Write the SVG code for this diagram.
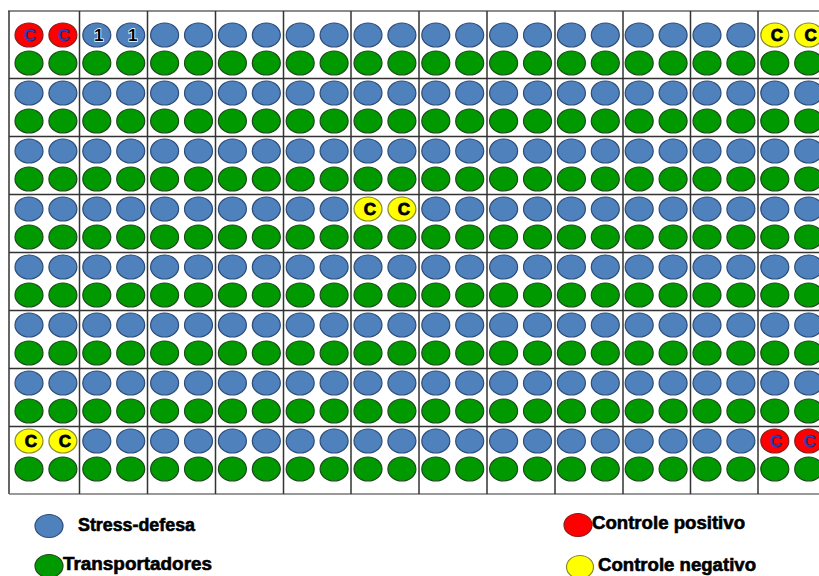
<svg xmlns="http://www.w3.org/2000/svg" xmlns:xlink="http://www.w3.org/1999/xlink" width="819" height="576" viewBox="0 0 819 576">
<style>
.b{fill:#4F81BD;stroke:#2E4D78;stroke-width:1.2}
.g{fill:#009A00;stroke:#1E4A1E;stroke-width:1.2}
.r{fill:#FF0000;stroke:#8A1E1E;stroke-width:1.2}
.y{fill:#FFFF00;stroke:#8A8A2E;stroke-width:1.2}
.ln{stroke:#333;stroke-width:1.5;fill:none}
.top{stroke:#8C8C8C;stroke-width:2;fill:none}
.lc{font-family:"Liberation Sans",Arial,sans-serif;font-weight:bold;font-size:17px;text-anchor:middle}
.cb{fill:#3344CC;stroke:#1a1a4a;stroke-width:0.5}
.ck{fill:#000;stroke:#000;stroke-width:0.8}
.one{fill:#000;stroke:#fff;stroke-width:1.4;paint-order:stroke}
.leg{font-family:"Liberation Sans",Arial,sans-serif;font-weight:bold;font-size:18px;fill:#000;stroke:#000;stroke-width:0.6}
</style>
<defs>
<ellipse id="bw" class="b" rx="14" ry="12"/>
<ellipse id="gw" class="g" rx="14" ry="12"/>
<ellipse id="rw" class="r" rx="14" ry="12"/>
<ellipse id="yw" class="y" rx="14" ry="12"/>
</defs>
<rect width="819" height="576" fill="#fff"/>
<g id="grid">
<line class="top" x1="8" y1="11" x2="819" y2="11"/>
<line class="ln" x1="9" y1="11" x2="9" y2="494"/>
<line class="ln" x1="9" y1="494" x2="819" y2="494" style="stroke:#777"/>
<line class="ln" x1="79.5" y1="11" x2="79.5" y2="494"/>
<line class="ln" x1="147.5" y1="11" x2="147.5" y2="494"/>
<line class="ln" x1="215.5" y1="11" x2="215.5" y2="494"/>
<line class="ln" x1="283.5" y1="11" x2="283.5" y2="494"/>
<line class="ln" x1="351" y1="11" x2="351" y2="494"/>
<line class="ln" x1="419" y1="11" x2="419" y2="494"/>
<line class="ln" x1="487" y1="11" x2="487" y2="494"/>
<line class="ln" x1="555" y1="11" x2="555" y2="494"/>
<line class="ln" x1="623" y1="11" x2="623" y2="494"/>
<line class="ln" x1="690.5" y1="11" x2="690.5" y2="494"/>
<line class="ln" x1="758" y1="11" x2="758" y2="494"/>
<line class="ln" x1="9" y1="78.5" x2="819" y2="78.5"/>
<line class="ln" x1="9" y1="136.5" x2="819" y2="136.5"/>
<line class="ln" x1="9" y1="194.5" x2="819" y2="194.5"/>
<line class="ln" x1="9" y1="252.5" x2="819" y2="252.5"/>
<line class="ln" x1="9" y1="310.5" x2="819" y2="310.5"/>
<line class="ln" x1="9" y1="368.5" x2="819" y2="368.5"/>
<line class="ln" x1="9" y1="426.5" x2="819" y2="426.5"/>
</g>
<g id="connectors"></g>
<g id="plate">
<g id="A1" transform="translate(29,35)"><use href="#rw"/><use href="#rw" x="33.9"/><use href="#gw" y="28"/><use href="#gw" x="33.9" y="28"/><text class="lc cb" x="1" y="6">C</text><text class="lc cb" x="34.9" y="6">C</text></g>
<g id="A2" transform="translate(96.8,35)"><use href="#bw"/><use href="#bw" x="33.9"/><use href="#gw" y="28"/><use href="#gw" x="33.9" y="28"/><text class="lc one" x="2" y="6">1</text><text class="lc one" x="35.9" y="6">1</text></g>
<g id="A3" transform="translate(164.6,35)"><use href="#bw"/><use href="#bw" x="33.9"/><use href="#gw" y="28"/><use href="#gw" x="33.9" y="28"/></g>
<g id="A4" transform="translate(232.4,35)"><use href="#bw"/><use href="#bw" x="33.9"/><use href="#gw" y="28"/><use href="#gw" x="33.9" y="28"/></g>
<g id="A5" transform="translate(300.2,35)"><use href="#bw"/><use href="#bw" x="33.9"/><use href="#gw" y="28"/><use href="#gw" x="33.9" y="28"/></g>
<g id="A6" transform="translate(368,35)"><use href="#bw"/><use href="#bw" x="33.9"/><use href="#gw" y="28"/><use href="#gw" x="33.9" y="28"/></g>
<g id="A7" transform="translate(435.8,35)"><use href="#bw"/><use href="#bw" x="33.9"/><use href="#gw" y="28"/><use href="#gw" x="33.9" y="28"/></g>
<g id="A8" transform="translate(503.6,35)"><use href="#bw"/><use href="#bw" x="33.9"/><use href="#gw" y="28"/><use href="#gw" x="33.9" y="28"/></g>
<g id="A9" transform="translate(571.4,35)"><use href="#bw"/><use href="#bw" x="33.9"/><use href="#gw" y="28"/><use href="#gw" x="33.9" y="28"/></g>
<g id="A10" transform="translate(639.2,35)"><use href="#bw"/><use href="#bw" x="33.9"/><use href="#gw" y="28"/><use href="#gw" x="33.9" y="28"/></g>
<g id="A11" transform="translate(707,35)"><use href="#bw"/><use href="#bw" x="33.9"/><use href="#gw" y="28"/><use href="#gw" x="33.9" y="28"/></g>
<g id="A12" transform="translate(774.8,35)"><use href="#yw"/><use href="#yw" x="33.9"/><use href="#gw" y="28"/><use href="#gw" x="33.9" y="28"/><text class="lc ck" x="2" y="6">C</text><text class="lc ck" x="35.9" y="6">C</text></g>

<g id="B1" transform="translate(29,93)"><use href="#bw"/><use href="#bw" x="33.9"/><use href="#gw" y="28"/><use href="#gw" x="33.9" y="28"/></g>
<g id="B2" transform="translate(96.8,93)"><use href="#bw"/><use href="#bw" x="33.9"/><use href="#gw" y="28"/><use href="#gw" x="33.9" y="28"/></g>
<g id="B3" transform="translate(164.6,93)"><use href="#bw"/><use href="#bw" x="33.9"/><use href="#gw" y="28"/><use href="#gw" x="33.9" y="28"/></g>
<g id="B4" transform="translate(232.4,93)"><use href="#bw"/><use href="#bw" x="33.9"/><use href="#gw" y="28"/><use href="#gw" x="33.9" y="28"/></g>
<g id="B5" transform="translate(300.2,93)"><use href="#bw"/><use href="#bw" x="33.9"/><use href="#gw" y="28"/><use href="#gw" x="33.9" y="28"/></g>
<g id="B6" transform="translate(368,93)"><use href="#bw"/><use href="#bw" x="33.9"/><use href="#gw" y="28"/><use href="#gw" x="33.9" y="28"/></g>
<g id="B7" transform="translate(435.8,93)"><use href="#bw"/><use href="#bw" x="33.9"/><use href="#gw" y="28"/><use href="#gw" x="33.9" y="28"/></g>
<g id="B8" transform="translate(503.6,93)"><use href="#bw"/><use href="#bw" x="33.9"/><use href="#gw" y="28"/><use href="#gw" x="33.9" y="28"/></g>
<g id="B9" transform="translate(571.4,93)"><use href="#bw"/><use href="#bw" x="33.9"/><use href="#gw" y="28"/><use href="#gw" x="33.9" y="28"/></g>
<g id="B10" transform="translate(639.2,93)"><use href="#bw"/><use href="#bw" x="33.9"/><use href="#gw" y="28"/><use href="#gw" x="33.9" y="28"/></g>
<g id="B11" transform="translate(707,93)"><use href="#bw"/><use href="#bw" x="33.9"/><use href="#gw" y="28"/><use href="#gw" x="33.9" y="28"/></g>
<g id="B12" transform="translate(774.8,93)"><use href="#bw"/><use href="#bw" x="33.9"/><use href="#gw" y="28"/><use href="#gw" x="33.9" y="28"/></g>

<g id="C1" transform="translate(29,151)"><use href="#bw"/><use href="#bw" x="33.9"/><use href="#gw" y="28"/><use href="#gw" x="33.9" y="28"/></g>
<g id="C2" transform="translate(96.8,151)"><use href="#bw"/><use href="#bw" x="33.9"/><use href="#gw" y="28"/><use href="#gw" x="33.9" y="28"/></g>
<g id="C3" transform="translate(164.6,151)"><use href="#bw"/><use href="#bw" x="33.9"/><use href="#gw" y="28"/><use href="#gw" x="33.9" y="28"/></g>
<g id="C4" transform="translate(232.4,151)"><use href="#bw"/><use href="#bw" x="33.9"/><use href="#gw" y="28"/><use href="#gw" x="33.9" y="28"/></g>
<g id="C5" transform="translate(300.2,151)"><use href="#bw"/><use href="#bw" x="33.9"/><use href="#gw" y="28"/><use href="#gw" x="33.9" y="28"/></g>
<g id="C6" transform="translate(368,151)"><use href="#bw"/><use href="#bw" x="33.9"/><use href="#gw" y="28"/><use href="#gw" x="33.9" y="28"/></g>
<g id="C7" transform="translate(435.8,151)"><use href="#bw"/><use href="#bw" x="33.9"/><use href="#gw" y="28"/><use href="#gw" x="33.9" y="28"/></g>
<g id="C8" transform="translate(503.6,151)"><use href="#bw"/><use href="#bw" x="33.9"/><use href="#gw" y="28"/><use href="#gw" x="33.9" y="28"/></g>
<g id="C9" transform="translate(571.4,151)"><use href="#bw"/><use href="#bw" x="33.9"/><use href="#gw" y="28"/><use href="#gw" x="33.9" y="28"/></g>
<g id="C10" transform="translate(639.2,151)"><use href="#bw"/><use href="#bw" x="33.9"/><use href="#gw" y="28"/><use href="#gw" x="33.9" y="28"/></g>
<g id="C11" transform="translate(707,151)"><use href="#bw"/><use href="#bw" x="33.9"/><use href="#gw" y="28"/><use href="#gw" x="33.9" y="28"/></g>
<g id="C12" transform="translate(774.8,151)"><use href="#bw"/><use href="#bw" x="33.9"/><use href="#gw" y="28"/><use href="#gw" x="33.9" y="28"/></g>

<g id="D1" transform="translate(29,209)"><use href="#bw"/><use href="#bw" x="33.9"/><use href="#gw" y="28"/><use href="#gw" x="33.9" y="28"/></g>
<g id="D2" transform="translate(96.8,209)"><use href="#bw"/><use href="#bw" x="33.9"/><use href="#gw" y="28"/><use href="#gw" x="33.9" y="28"/></g>
<g id="D3" transform="translate(164.6,209)"><use href="#bw"/><use href="#bw" x="33.9"/><use href="#gw" y="28"/><use href="#gw" x="33.9" y="28"/></g>
<g id="D4" transform="translate(232.4,209)"><use href="#bw"/><use href="#bw" x="33.9"/><use href="#gw" y="28"/><use href="#gw" x="33.9" y="28"/></g>
<g id="D5" transform="translate(300.2,209)"><use href="#bw"/><use href="#bw" x="33.9"/><use href="#gw" y="28"/><use href="#gw" x="33.9" y="28"/></g>
<g id="D6" transform="translate(368,209)"><use href="#yw"/><use href="#yw" x="33.9"/><use href="#gw" y="28"/><use href="#gw" x="33.9" y="28"/><text class="lc ck" x="2" y="6">C</text><text class="lc ck" x="35.9" y="6">C</text></g>
<g id="D7" transform="translate(435.8,209)"><use href="#bw"/><use href="#bw" x="33.9"/><use href="#gw" y="28"/><use href="#gw" x="33.9" y="28"/></g>
<g id="D8" transform="translate(503.6,209)"><use href="#bw"/><use href="#bw" x="33.9"/><use href="#gw" y="28"/><use href="#gw" x="33.9" y="28"/></g>
<g id="D9" transform="translate(571.4,209)"><use href="#bw"/><use href="#bw" x="33.9"/><use href="#gw" y="28"/><use href="#gw" x="33.9" y="28"/></g>
<g id="D10" transform="translate(639.2,209)"><use href="#bw"/><use href="#bw" x="33.9"/><use href="#gw" y="28"/><use href="#gw" x="33.9" y="28"/></g>
<g id="D11" transform="translate(707,209)"><use href="#bw"/><use href="#bw" x="33.9"/><use href="#gw" y="28"/><use href="#gw" x="33.9" y="28"/></g>
<g id="D12" transform="translate(774.8,209)"><use href="#bw"/><use href="#bw" x="33.9"/><use href="#gw" y="28"/><use href="#gw" x="33.9" y="28"/></g>

<g id="E1" transform="translate(29,267)"><use href="#bw"/><use href="#bw" x="33.9"/><use href="#gw" y="28"/><use href="#gw" x="33.9" y="28"/></g>
<g id="E2" transform="translate(96.8,267)"><use href="#bw"/><use href="#bw" x="33.9"/><use href="#gw" y="28"/><use href="#gw" x="33.9" y="28"/></g>
<g id="E3" transform="translate(164.6,267)"><use href="#bw"/><use href="#bw" x="33.9"/><use href="#gw" y="28"/><use href="#gw" x="33.9" y="28"/></g>
<g id="E4" transform="translate(232.4,267)"><use href="#bw"/><use href="#bw" x="33.9"/><use href="#gw" y="28"/><use href="#gw" x="33.9" y="28"/></g>
<g id="E5" transform="translate(300.2,267)"><use href="#bw"/><use href="#bw" x="33.9"/><use href="#gw" y="28"/><use href="#gw" x="33.9" y="28"/></g>
<g id="E6" transform="translate(368,267)"><use href="#bw"/><use href="#bw" x="33.9"/><use href="#gw" y="28"/><use href="#gw" x="33.9" y="28"/></g>
<g id="E7" transform="translate(435.8,267)"><use href="#bw"/><use href="#bw" x="33.9"/><use href="#gw" y="28"/><use href="#gw" x="33.9" y="28"/></g>
<g id="E8" transform="translate(503.6,267)"><use href="#bw"/><use href="#bw" x="33.9"/><use href="#gw" y="28"/><use href="#gw" x="33.9" y="28"/></g>
<g id="E9" transform="translate(571.4,267)"><use href="#bw"/><use href="#bw" x="33.9"/><use href="#gw" y="28"/><use href="#gw" x="33.9" y="28"/></g>
<g id="E10" transform="translate(639.2,267)"><use href="#bw"/><use href="#bw" x="33.9"/><use href="#gw" y="28"/><use href="#gw" x="33.9" y="28"/></g>
<g id="E11" transform="translate(707,267)"><use href="#bw"/><use href="#bw" x="33.9"/><use href="#gw" y="28"/><use href="#gw" x="33.9" y="28"/></g>
<g id="E12" transform="translate(774.8,267)"><use href="#bw"/><use href="#bw" x="33.9"/><use href="#gw" y="28"/><use href="#gw" x="33.9" y="28"/></g>

<g id="F1" transform="translate(29,325)"><use href="#bw"/><use href="#bw" x="33.9"/><use href="#gw" y="28"/><use href="#gw" x="33.9" y="28"/></g>
<g id="F2" transform="translate(96.8,325)"><use href="#bw"/><use href="#bw" x="33.9"/><use href="#gw" y="28"/><use href="#gw" x="33.9" y="28"/></g>
<g id="F3" transform="translate(164.6,325)"><use href="#bw"/><use href="#bw" x="33.9"/><use href="#gw" y="28"/><use href="#gw" x="33.9" y="28"/></g>
<g id="F4" transform="translate(232.4,325)"><use href="#bw"/><use href="#bw" x="33.9"/><use href="#gw" y="28"/><use href="#gw" x="33.9" y="28"/></g>
<g id="F5" transform="translate(300.2,325)"><use href="#bw"/><use href="#bw" x="33.9"/><use href="#gw" y="28"/><use href="#gw" x="33.9" y="28"/></g>
<g id="F6" transform="translate(368,325)"><use href="#bw"/><use href="#bw" x="33.9"/><use href="#gw" y="28"/><use href="#gw" x="33.9" y="28"/></g>
<g id="F7" transform="translate(435.8,325)"><use href="#bw"/><use href="#bw" x="33.9"/><use href="#gw" y="28"/><use href="#gw" x="33.9" y="28"/></g>
<g id="F8" transform="translate(503.6,325)"><use href="#bw"/><use href="#bw" x="33.9"/><use href="#gw" y="28"/><use href="#gw" x="33.9" y="28"/></g>
<g id="F9" transform="translate(571.4,325)"><use href="#bw"/><use href="#bw" x="33.9"/><use href="#gw" y="28"/><use href="#gw" x="33.9" y="28"/></g>
<g id="F10" transform="translate(639.2,325)"><use href="#bw"/><use href="#bw" x="33.9"/><use href="#gw" y="28"/><use href="#gw" x="33.9" y="28"/></g>
<g id="F11" transform="translate(707,325)"><use href="#bw"/><use href="#bw" x="33.9"/><use href="#gw" y="28"/><use href="#gw" x="33.9" y="28"/></g>
<g id="F12" transform="translate(774.8,325)"><use href="#bw"/><use href="#bw" x="33.9"/><use href="#gw" y="28"/><use href="#gw" x="33.9" y="28"/></g>

<g id="G1" transform="translate(29,383)"><use href="#bw"/><use href="#bw" x="33.9"/><use href="#gw" y="28"/><use href="#gw" x="33.9" y="28"/></g>
<g id="G2" transform="translate(96.8,383)"><use href="#bw"/><use href="#bw" x="33.9"/><use href="#gw" y="28"/><use href="#gw" x="33.9" y="28"/></g>
<g id="G3" transform="translate(164.6,383)"><use href="#bw"/><use href="#bw" x="33.9"/><use href="#gw" y="28"/><use href="#gw" x="33.9" y="28"/></g>
<g id="G4" transform="translate(232.4,383)"><use href="#bw"/><use href="#bw" x="33.9"/><use href="#gw" y="28"/><use href="#gw" x="33.9" y="28"/></g>
<g id="G5" transform="translate(300.2,383)"><use href="#bw"/><use href="#bw" x="33.9"/><use href="#gw" y="28"/><use href="#gw" x="33.9" y="28"/></g>
<g id="G6" transform="translate(368,383)"><use href="#bw"/><use href="#bw" x="33.9"/><use href="#gw" y="28"/><use href="#gw" x="33.9" y="28"/></g>
<g id="G7" transform="translate(435.8,383)"><use href="#bw"/><use href="#bw" x="33.9"/><use href="#gw" y="28"/><use href="#gw" x="33.9" y="28"/></g>
<g id="G8" transform="translate(503.6,383)"><use href="#bw"/><use href="#bw" x="33.9"/><use href="#gw" y="28"/><use href="#gw" x="33.9" y="28"/></g>
<g id="G9" transform="translate(571.4,383)"><use href="#bw"/><use href="#bw" x="33.9"/><use href="#gw" y="28"/><use href="#gw" x="33.9" y="28"/></g>
<g id="G10" transform="translate(639.2,383)"><use href="#bw"/><use href="#bw" x="33.9"/><use href="#gw" y="28"/><use href="#gw" x="33.9" y="28"/></g>
<g id="G11" transform="translate(707,383)"><use href="#bw"/><use href="#bw" x="33.9"/><use href="#gw" y="28"/><use href="#gw" x="33.9" y="28"/></g>
<g id="G12" transform="translate(774.8,383)"><use href="#bw"/><use href="#bw" x="33.9"/><use href="#gw" y="28"/><use href="#gw" x="33.9" y="28"/></g>

<g id="H1" transform="translate(29,441)"><use href="#yw"/><use href="#yw" x="33.9"/><use href="#gw" y="28"/><use href="#gw" x="33.9" y="28"/><text class="lc ck" x="2" y="6">C</text><text class="lc ck" x="35.9" y="6">C</text></g>
<g id="H2" transform="translate(96.8,441)"><use href="#bw"/><use href="#bw" x="33.9"/><use href="#gw" y="28"/><use href="#gw" x="33.9" y="28"/></g>
<g id="H3" transform="translate(164.6,441)"><use href="#bw"/><use href="#bw" x="33.9"/><use href="#gw" y="28"/><use href="#gw" x="33.9" y="28"/></g>
<g id="H4" transform="translate(232.4,441)"><use href="#bw"/><use href="#bw" x="33.9"/><use href="#gw" y="28"/><use href="#gw" x="33.9" y="28"/></g>
<g id="H5" transform="translate(300.2,441)"><use href="#bw"/><use href="#bw" x="33.9"/><use href="#gw" y="28"/><use href="#gw" x="33.9" y="28"/></g>
<g id="H6" transform="translate(368,441)"><use href="#bw"/><use href="#bw" x="33.9"/><use href="#gw" y="28"/><use href="#gw" x="33.9" y="28"/></g>
<g id="H7" transform="translate(435.8,441)"><use href="#bw"/><use href="#bw" x="33.9"/><use href="#gw" y="28"/><use href="#gw" x="33.9" y="28"/></g>
<g id="H8" transform="translate(503.6,441)"><use href="#bw"/><use href="#bw" x="33.9"/><use href="#gw" y="28"/><use href="#gw" x="33.9" y="28"/></g>
<g id="H9" transform="translate(571.4,441)"><use href="#bw"/><use href="#bw" x="33.9"/><use href="#gw" y="28"/><use href="#gw" x="33.9" y="28"/></g>
<g id="H10" transform="translate(639.2,441)"><use href="#bw"/><use href="#bw" x="33.9"/><use href="#gw" y="28"/><use href="#gw" x="33.9" y="28"/></g>
<g id="H11" transform="translate(707,441)"><use href="#bw"/><use href="#bw" x="33.9"/><use href="#gw" y="28"/><use href="#gw" x="33.9" y="28"/></g>
<g id="H12" transform="translate(774.8,441)"><use href="#rw"/><use href="#rw" x="33.9"/><use href="#gw" y="28"/><use href="#gw" x="33.9" y="28"/><text class="lc cb" x="1" y="6">C</text><text class="lc cb" x="34.9" y="6">C</text></g>
</g>
<g id="legend">
<g id="leg-stress"><ellipse class="b" cx="49" cy="526" rx="14" ry="11.5"/><text class="leg" x="78" y="531" textLength="117" lengthAdjust="spacingAndGlyphs">Stress-defesa</text></g>
<g id="leg-transp"><ellipse class="g" cx="49" cy="566" rx="14" ry="11.5"/><text class="leg" x="63" y="570" textLength="149" lengthAdjust="spacingAndGlyphs">Transportadores</text></g>
<g id="leg-pos"><ellipse class="r" cx="578" cy="525" rx="14" ry="11.5"/><text class="leg" x="592" y="529" textLength="153" lengthAdjust="spacingAndGlyphs">Controle positivo</text></g>
<g id="leg-neg"><ellipse class="y" cx="580" cy="567" rx="13.5" ry="11.5"/><text class="leg" x="598" y="571" textLength="158" lengthAdjust="spacingAndGlyphs">Controle negativo</text></g>
</g>
</svg>
